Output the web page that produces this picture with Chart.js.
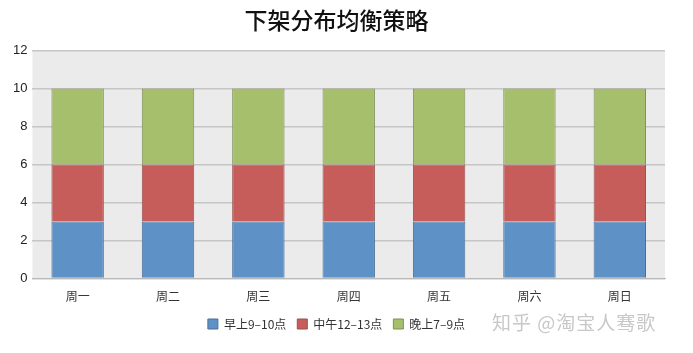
<!DOCTYPE html>
<html>
<head>
<meta charset="utf-8">
<script src="https://cdn.jsdelivr.net/npm/chart.js@4"></script>
<style>
  html, body { margin: 0; padding: 0; background: #fff; }
  #wrap { position: relative; width: 693px; height: 353px; }
  #mark { position: absolute; left: 492px; top: 308px; font: 19px "Noto Sans CJK SC", sans-serif; color: #c8c8c8; letter-spacing: 1px; }
</style>
</head>
<body>
<div id="wrap">
  <canvas id="c" width="693" height="353"></canvas>
  <div id="mark">知乎 @淘宝人骞歌</div>
</div>
<script>
const days = ["周一", "周二", "周三", "周四", "周五", "周六", "周日"];
const morning = [3, 3, 3, 3, 3, 3, 3];
const noon = [3, 3, 3, 3, 3, 3, 3];
const evening = [4, 4, 4, 4, 4, 4, 4];
const seriesNames = ["早上9–10点", "中午12–13点", "晚上7–9点"];

const cjk = "'Noto Sans CJK SC', 'Liberation Sans', sans-serif";

// light gray panel behind the bars
const panelBg = {
    id: "panelBg",
    beforeDraw(chart) {
        const { ctx, chartArea: a } = chart;
        ctx.save();
        ctx.fillStyle = "#ebebeb";
        ctx.fillRect(a.left, a.top, a.right - a.left, a.bottom - a.top);
        ctx.restore();
    }
};

const ds = (label, data, bg, border) => ({
    label, data, backgroundColor: bg, borderColor: border, borderWidth: 1,
    barPercentage: 0.58, categoryPercentage: 1
});

new Chart(document.getElementById("c"), {
    type: "bar",
    data: {
        labels: days,
        datasets: [
            ds(seriesNames[0], morning, "#5e92c7", "#4a6f96"),
            ds(seriesNames[1], noon, "#c75d5b", "#99514f"),
            ds(seriesNames[2], evening, "#a6bf6c", "#7f9157")
        ]
    },
    options: {
        responsive: false, animation: false,
        layout: { padding: { left: 8, right: 28, top: 6, bottom: 13 } },
        plugins: {
            title: {
                display: true, text: "下架分布均衡策略", color: "#111",
                font: { family: cjk, size: 23, weight: "500" },
                padding: { top: 0, bottom: 17 }
            },
            legend: {
                position: "bottom",
                labels: {
                    boxWidth: 10, boxHeight: 10, color: "#333", padding: 11,
                    font: { family: cjk, size: 12 }
                }
            },
            tooltip: { enabled: false }
        },
        scales: {
            x: {
                stacked: true,
                grid: { display: false },
                border: { color: "#b8b8b8" },
                ticks: { color: "#333", font: { family: cjk, size: 12 }, padding: 3 }
            },
            y: {
                stacked: true, min: 0, max: 12,
                ticks: { stepSize: 2, color: "#222", font: { family: "'Liberation Sans', sans-serif", size: 13 }, padding: 5 },
                grid: { color: "#c6c6c6", lineWidth: 1.5, drawTicks: false },
                border: { display: false }
            }
        }
    },
    plugins: [panelBg]
});
</script>
</body>
</html>
